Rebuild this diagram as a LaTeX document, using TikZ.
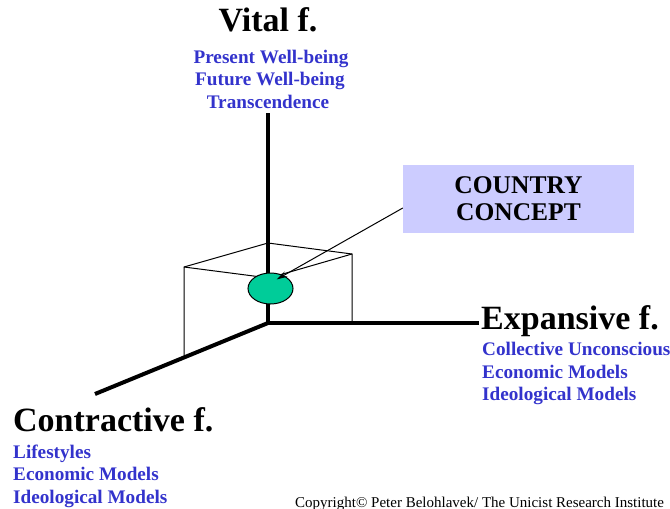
\documentclass[tikz,border=0pt]{standalone}
\usepackage{fontspec}
\setmainfont{Liberation Serif}
\usetikzlibrary{arrows.meta,calc,shapes.geometric}
\definecolor{lblblue}{HTML}{3333CC}
\definecolor{ellgreen}{HTML}{00CC99}
\definecolor{boxlav}{HTML}{CCCCFF}
\begin{document}
\begin{tikzpicture}[x=1pt,y=-1pt,
  axis/.style={line width=4pt},
  thinln/.style={line width=1pt},
  bigtitle/.style={font=\bfseries\fontsize{34}{38}\selectfont, inner sep=0pt, anchor=base},
  bluelbl/.style={font=\bfseries\fontsize{19.2}{22}\selectfont, text=lblblue, inner sep=0pt, anchor=base},
]
\useasboundingbox (0,0) rectangle (670,509);
% axis points
\coordinate (O) at (268,323);
\coordinate (V) at (268,113);
\coordinate (E) at (479,323);
\coordinate (C) at (95,394);
% box corners
\coordinate (bk) at (268,243);
\coordinate (lt) at (184,267);
\coordinate (rt) at (352,254);
\coordinate (fr) at (269,278);
\coordinate (lb) at (184,357);
\coordinate (rb) at (352,323);
% thin box
\draw[thinln] (lb) -- (lt) -- (bk) -- (rt) -- (rb);
\draw[thinln] (lt) -- (fr) -- (rt);
% axes
\draw[axis] (V) -- (O) -- (E);
\draw[axis] (O) -- (C);
% ellipse
\node[ellipse, draw=black, thinln, fill=ellgreen, minimum width=45pt, minimum height=31pt, inner sep=0pt] (ell) at (270.5,288.5) {};
% concept box
\node[fill=boxlav, minimum width=231pt, minimum height=68pt, inner sep=0pt,
  align=center, font=\bfseries\fontsize{25.5}{27}\selectfont] (box) at (518.5,199) {COUNTRY\\CONCEPT};
\draw[thinln, -{Stealth[length=11pt,width=6pt]}] ($(box.west)+(0,9)$) -- ($(ell.center)+(6,-9)$);
% Vital
\node[bigtitle] (vital) at (268,31) {Vital f.};
\node[bluelbl] (v1) at (271,63) {Present Well-being};
\node[bluelbl] (v2) at (270,85.5) {Future Well-being};
\node[bluelbl] (v3) at (268,108) {Transcendence};
% Expansive
\node[bigtitle, anchor=base west] (exp) at (481,329) {Expansive f.};
\node[bluelbl, anchor=base west] (e1) at (482,355.5) {Collective Unconscious};
\node[bluelbl, anchor=base west] (e2) at (482,378) {Economic Models};
\node[bluelbl, anchor=base west] (e3) at (482,400.5) {Ideological Models};
% Contractive
\node[bigtitle, anchor=base west] (con) at (13,431) {Contractive f.};
\node[bluelbl, anchor=base west] (c1) at (13,458) {Lifestyles};
\node[bluelbl, anchor=base west] (c2) at (13,480.5) {Economic Models};
\node[bluelbl, anchor=base west] (c3) at (13,503) {Ideological Models};
% copyright
\node[font=\fontsize{15}{17}\selectfont, inner sep=0pt, anchor=base west] (copy) at (295,507) {Copyright© Peter Belohlavek/ The Unicist Research Institute};
\end{tikzpicture}
\end{document}
